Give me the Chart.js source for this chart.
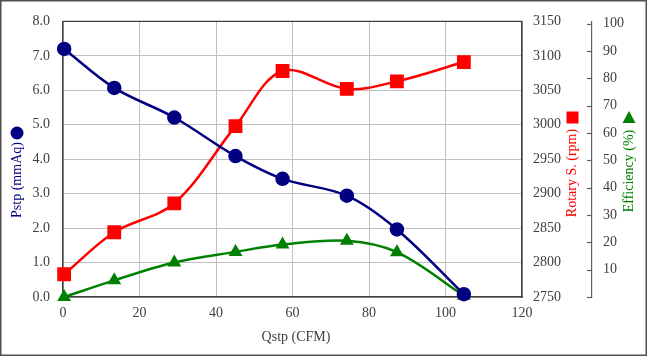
<!DOCTYPE html>
<html>
<head>
<meta charset="utf-8">
<script src="https://cdn.jsdelivr.net/npm/chart.js@4.4.1/dist/chart.umd.min.js"></script>
<style>
html,body{margin:0;padding:0;background:#fff;}
#wrap{width:647px;height:356px;position:relative;}
</style>
</head>
<body>
<div id="wrap"><canvas id="c" width="647" height="356"></canvas></div>
<script>
// ---- data ----
const qstp = [0.3, 13.4, 29.1, 45.1, 57.4, 74.2, 87.3, 104.8];
const pstp = [7.20, 6.07, 5.21, 4.09, 3.43, 2.94, 1.96, 0.08];
const rpm = [2783, 2844, 2886, 2998, 3078, 3052, 3063, 3091];
const eff = [0, 6.1, 12.6, 16.5, 19.2, 20.6, 16.4, 0.5];
const xTicks = [0, 20, 40, 60, 80, 100, 120];
const pstpTicks = [0, 1, 2, 3, 4, 5, 6, 7, 8];
const rpmTicks = [2750, 2800, 2850, 2900, 2950, 3000, 3050, 3100, 3150];
const effTicks = [10, 20, 30, 40, 50, 60, 70, 80, 90, 100];
const titles = {x: 'Qstp (CFM)', y: 'Pstp (mmAq)', rpm: 'Rotary S. (rpm)', eff: 'Efficiency (%)'};

const NAVY = '#000080', RED = '#ff0000', GREEN = '#008000';
const FONT = "'Liberation Serif', 'DejaVu Serif', serif";
const TICKC = '#404040', GRIDC = '#c0c0c0', AXC = '#404040';

function pts(xs, ys){ return xs.map((x,i)=>({x:x, y:ys[i]})); }

const deco = {
  id: 'deco',
  afterDraw(chart){
    const ctx = chart.ctx, ca = chart.chartArea;
    ctx.save();
    // top border of plot
    ctx.strokeStyle = AXC; ctx.lineWidth = 1.2;
    ctx.beginPath(); ctx.moveTo(ca.left, ca.top); ctx.lineTo(ca.right, ca.top); ctx.stroke();
    // efficiency tick marks pointing left
    const es = chart.scales.eff;
    ctx.strokeStyle = '#606060'; ctx.lineWidth = 1.2;
    const ex = es.left;
    [0].concat(effTicks).forEach(v=>{
      const y = Math.round(es.getPixelForValue(v)) + 0.5;
      ctx.beginPath(); ctx.moveTo(ex - 5, y); ctx.lineTo(ex, y); ctx.stroke();
    });
    // titles
    ctx.font = '14px ' + FONT;
    ctx.textAlign = 'center'; ctx.textBaseline = 'middle';
    function vtext(t, x, y, c){
      ctx.save(); ctx.translate(x, y); ctx.rotate(-Math.PI/2); ctx.fillStyle = c; ctx.fillText(t, 0, 0); ctx.restore();
    }
    vtext(titles.y, 17, 180, NAVY);
    vtext(titles.rpm, 572.5, 173, RED);
    vtext(titles.eff, 629, 171, GREEN);
    ctx.fillStyle = '#404040';
    ctx.fillText(titles.x, 296, 337);
    // title markers
    ctx.fillStyle = NAVY; ctx.beginPath(); ctx.arc(17, 133, 6.5, 0, Math.PI*2); ctx.fill();
    ctx.fillStyle = RED; ctx.fillRect(566.5, 111.5, 12, 12);
    ctx.fillStyle = GREEN; ctx.beginPath(); ctx.moveTo(629, 111); ctx.lineTo(635.5, 123); ctx.lineTo(622.5, 123); ctx.closePath(); ctx.fill();
    // outer frame
    ctx.strokeStyle = '#505050'; ctx.lineWidth = 1.5;
    ctx.strokeRect(0.75, 0.75, 645.5, 354.5);
    ctx.restore();
  }
};

new Chart(document.getElementById('c'), {
  type: 'line',
  data: {
    datasets: [
      {label:'Pstp', data: pts(qstp, pstp), yAxisID:'y', borderColor:NAVY, backgroundColor:NAVY,
       borderWidth:2.5, pointStyle:'circle', pointRadius:6, pointHoverRadius:6, tension:0.35, clip:false, order:1},
      {label:'Rotary', data: pts(qstp, rpm), yAxisID:'rpm', borderColor:RED, backgroundColor:RED,
       borderWidth:2.5, pointStyle:'rect', pointRadius:8, pointHoverRadius:8, tension:0.35, clip:false, order:2},
      {label:'Eff', data: pts(qstp, eff), yAxisID:'eff', borderColor:GREEN, backgroundColor:GREEN,
       borderWidth:2.5, pointStyle:'triangle', pointRadius:5.5, pointHoverRadius:5.5, tension:0.35, clip:false, order:3}
    ]
  },
  options: {
    responsive:false, animation:false,
    layout:{padding:{top:19, left:0, right:0, bottom:0}},
    plugins:{legend:{display:false}, tooltip:{enabled:false}},
    scales:{
      x:{type:'linear', position:'bottom', min:0, max:120,
         afterBuildTicks: s => { s.ticks = xTicks.map(v=>({value:v})); },
         afterFit: s => { s.height = 59; },
         grid:{color:GRIDC, lineWidth:1, drawTicks:false},
         border:{color:AXC, width:1.5},
         ticks:{font:{family:FONT, size:14}, color:TICKC, padding:8, maxRotation:0, callback:v=>String(v)}},
      y:{type:'linear', position:'left', min:0, max:8,
         afterBuildTicks: s => { s.ticks = pstpTicks.map(v=>({value:v})); },
         afterFit: s => { s.width = 63; },
         grid:{color:GRIDC, lineWidth:1, drawTicks:false},
         border:{color:AXC, width:1.5},
         ticks:{font:{family:FONT, size:14}, color:TICKC, padding:13, callback:v=>Number(v).toFixed(1)}},
      rpm:{type:'linear', position:'right', weight:0, min:2750, max:3150,
         afterBuildTicks: s => { s.ticks = rpmTicks.map(v=>({value:v})); },
         afterFit: s => { s.width = 70; },
         grid:{drawOnChartArea:false, drawTicks:false},
         border:{color:AXC, width:1.5},
         ticks:{font:{family:FONT, size:14}, color:TICKC, padding:11, callback:v=>String(v)}},
      eff:{type:'linear', position:'right', weight:1, min:0, max:100.8,
         afterBuildTicks: s => { s.ticks = effTicks.map(v=>({value:v})); },
         afterFit: s => { s.width = 55; },
         grid:{drawOnChartArea:false, drawTicks:false},
         border:{color:'#606060', width:1.2},
         ticks:{font:{family:FONT, size:14}, color:TICKC, padding:11, callback:v=>String(v)}}
    }
  },
  plugins:[deco]
});
</script>
</body>
</html>
